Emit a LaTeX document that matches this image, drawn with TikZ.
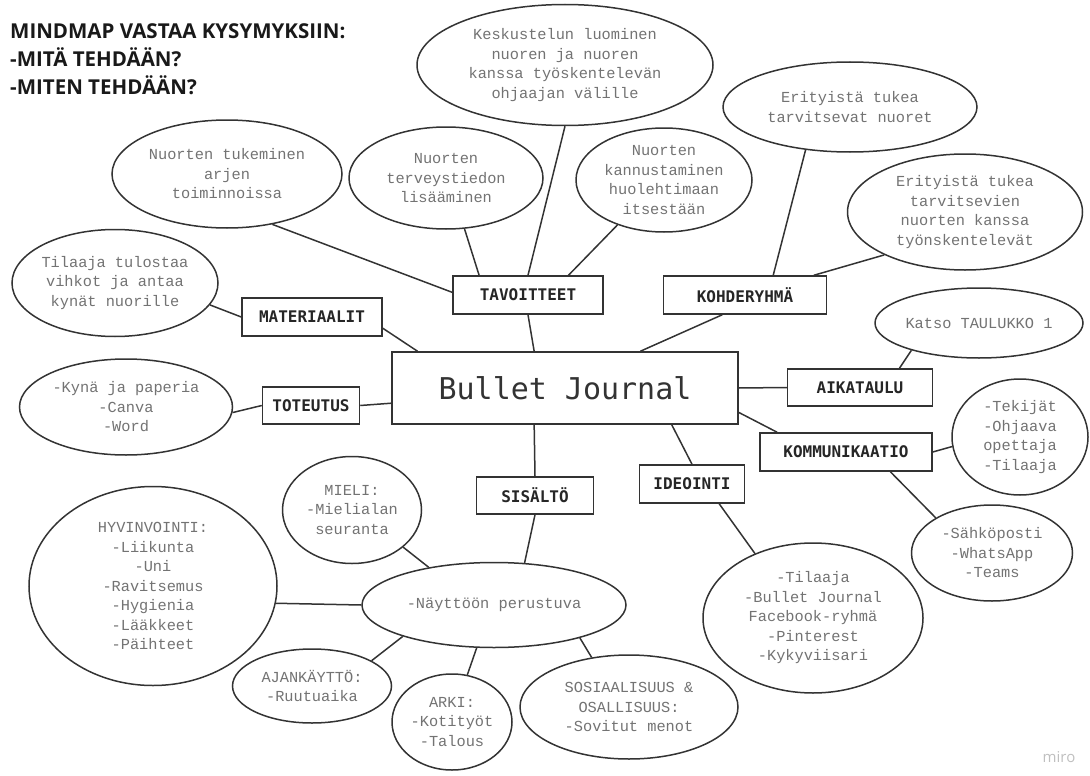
\documentclass[tikz,border=0pt]{standalone}
\usepackage{fontspec}
\usetikzlibrary{shapes.geometric}
\newfontfamily\ellfont{Liberation Mono}
\newfontfamily\boxfont{DejaVu Sans Mono}
\newfontfamily\titlefont{Open Sans}

\begin{document}
\begin{tikzpicture}[x=1pt,y=-1pt,
  link/.style={draw=black!80,line width=1.5pt},
  topic/.style={draw=black!80,line width=1.5pt,fill=white,inner sep=0pt,
    font=\boxfont\bfseries\fontsize{16}{19}\selectfont,text=black!85},
  bubble/.style={ellipse,draw=black!80,line width=1.5pt,fill=white,inner sep=0pt,
    align=center,font=\ellfont\fontsize{15.3}{19.5}\selectfont,text=black!55}]
\useasboundingbox (0,0) rectangle (1090,776);

% heading:
\node[anchor=north west,align=left,inner sep=0pt,text=black!90,
  font=\titlefont\bfseries\fontsize{20.5}{28}\selectfont] (title) at (10,23)
  {MINDMAP VASTAA KYSYMYKSIIN:\\-MITÄ TEHDÄÄN?\\-MITEN TEHDÄÄN?};

% centre and topics:
\node[draw=black!80,line width=1.5pt,minimum width=346pt,minimum height=72pt,
  font=\boxfont\fontsize{30}{36}\selectfont,text=black!80] (bj) at (565,388) {Bullet Journal};
\node[topic,minimum width=150pt,minimum height=38pt] (tv) at (528,295) {TAVOITTEET};
\node[topic,minimum width=163pt,minimum height=38pt] (kr) at (745,295) {KOHDERYHMÄ};
\node[topic,minimum width=140pt,minimum height=38pt] (ma) at (312,317) {MATERIAALIT};
\node[topic,minimum width=97pt,minimum height=37pt] (to) at (311,405.5) {TOTEUTUS};
\node[topic,minimum width=145pt,minimum height=37pt] (ai) at (860,387.5) {AIKATAULU};
\node[topic,minimum width=172pt,minimum height=38pt] (ko) at (846,452) {KOMMUNIKAATIO};
\node[topic,minimum width=117pt,minimum height=37pt] (si) at (535,495.5) {SISÄLTÖ};
\node[topic,minimum width=105pt,minimum height=38pt] (id) at (692,484) {IDEOINTI};

% bubbles:
\node[bubble,minimum width=296pt,minimum height=121pt] (kesk) at (565,65)
  {Keskustelun luominen\\nuoren ja nuoren\\kanssa työskentelevän\\ohjaajan välille};
\node[bubble,minimum width=230pt,minimum height=108pt] (arjen) at (227,174)
  {Nuorten tukeminen\\arjen\\toiminnoissa};
\node[bubble,minimum width=194pt,minimum height=102pt] (terv) at (446,178)
  {Nuorten\\terveystiedon\\lisääminen};
\node[bubble,inner ysep=-3pt,minimum width=176pt,minimum height=104pt] (kann) at (664,180)
  {Nuorten\\kannustaminen\\huolehtimaan\\itsestään};
\node[bubble,minimum width=254pt,minimum height=90pt] (erit1) at (850,107)
  {Erityistä tukea\\tarvitsevat nuoret};
\node[bubble,minimum width=235pt,minimum height=116pt] (erit2) at (965,212)
  {Erityistä tukea\\tarvitsevien\\nuorten kanssa\\työnskentelevät};
\node[bubble,minimum width=208pt,minimum height=70pt] (katso) at (979,323) {Katso TAULUKKO 1};
\node[bubble,minimum width=136pt,minimum height=116pt] (tekijat) at (1020,437)
  {-Tekijät\\-Ohjaava\\opettaja\\-Tilaaja};
\node[bubble,minimum width=161pt,minimum height=96pt] (sahko) at (992,553)
  {-Sähköposti\\-WhatsApp\\-Teams};
\node[bubble,minimum width=220pt,minimum height=150pt] (kanavat) at (813,618)
  {-Tilaaja\\-Bullet Journal\\Facebook-ryhmä\\-Pinterest\\-Kykyviisari};
\node[bubble,minimum width=218pt,minimum height=104pt] (sos) at (629,707)
  {SOSIAALISUUS \&\\OSALLISUUS:\\-Sovitut menot};
\node[bubble,minimum width=120pt,minimum height=96pt] (arki) at (452,722)
  {ARKI:\\-Kotityöt\\-Talous};
\node[bubble,minimum width=264pt,minimum height=85pt] (nayt) at (494,605) {-Näyttöön perustuva};
\node[bubble,minimum width=159pt,minimum height=74pt] (ajan) at (312,686)
  {AJANKÄYTTÖ:\\-Ruutuaika};
\node[bubble,minimum width=139pt,minimum height=107pt] (mieli) at (352,510)
  {MIELI:\\-Mielialan\\seuranta};
\node[bubble,minimum width=248pt,minimum height=199pt] (hyv) at (153,586)
  {HYVINVOINTI:\\-Liikunta\\-Uni\\-Ravitsemus\\-Hygienia\\-Lääkkeet\\-Päihteet};
\node[bubble,inner xsep=-2pt,minimum width=206pt,minimum height=107pt] (vihkot) at (115,283)
  {Tilaaja tulostaa\\vihkot ja antaa\\kynät nuorille};
\node[bubble,minimum width=213pt,minimum height=96pt] (kyna) at (126,407)
  {-Kynä ja paperia\\-Canva\\-Word};

% links:
\draw[link] (bj.130) -- (tv.south);
\draw[link] (tv.north) -- (kesk.south);
\draw[link] (tv.158) -- (terv.-70);
\draw[link] (tv.26) -- (kann.-136);
\draw[link] (tv.178) -- (arjen.-48);
\draw[link] (bj.26) -- (kr.-139);
\draw[link] (kr.35) -- (erit1.-136);
\draw[link] (kr.16) -- (erit2.-152);
\draw[link] (bj.166) -- (ma.-9);
\draw[link] (ma.west) -- (vihkot.-13);
\draw[link] (bj.-175) -- (to.east);
\draw[link] (to.west) -- (kyna.-3);
\draw[link] (bj.east) -- (ai.west);
\draw[link] (ai.26) -- (katso.-158);
\draw[link] (bj.-8) -- (ko.164);
\draw[link] (ko.east) -- (tekijat.-172);
\draw[link] (ko.-24) -- (sahko.148);
\draw[link] (bj.-19) -- (id.north);
\draw[link] (id.-36) -- (kanavat.132);
\draw[link] (bj.-130) -- (si.north);
\draw[link] (si.south) -- (nayt.54);
\draw[link] (nayt.150) -- (mieli.-36);
\draw[link] (nayt.west) -- (hyv.-8);
\draw[link] (nayt.-161) -- (ajan.23);
\draw[link] (nayt.-112) -- (arki.72);
\draw[link] (nayt.-21) -- (sos.127);

\node[text=black!25,font=\titlefont\fontsize{15}{18}\selectfont] (miro) at (1059,757) {miro};
\end{tikzpicture}
\end{document}
